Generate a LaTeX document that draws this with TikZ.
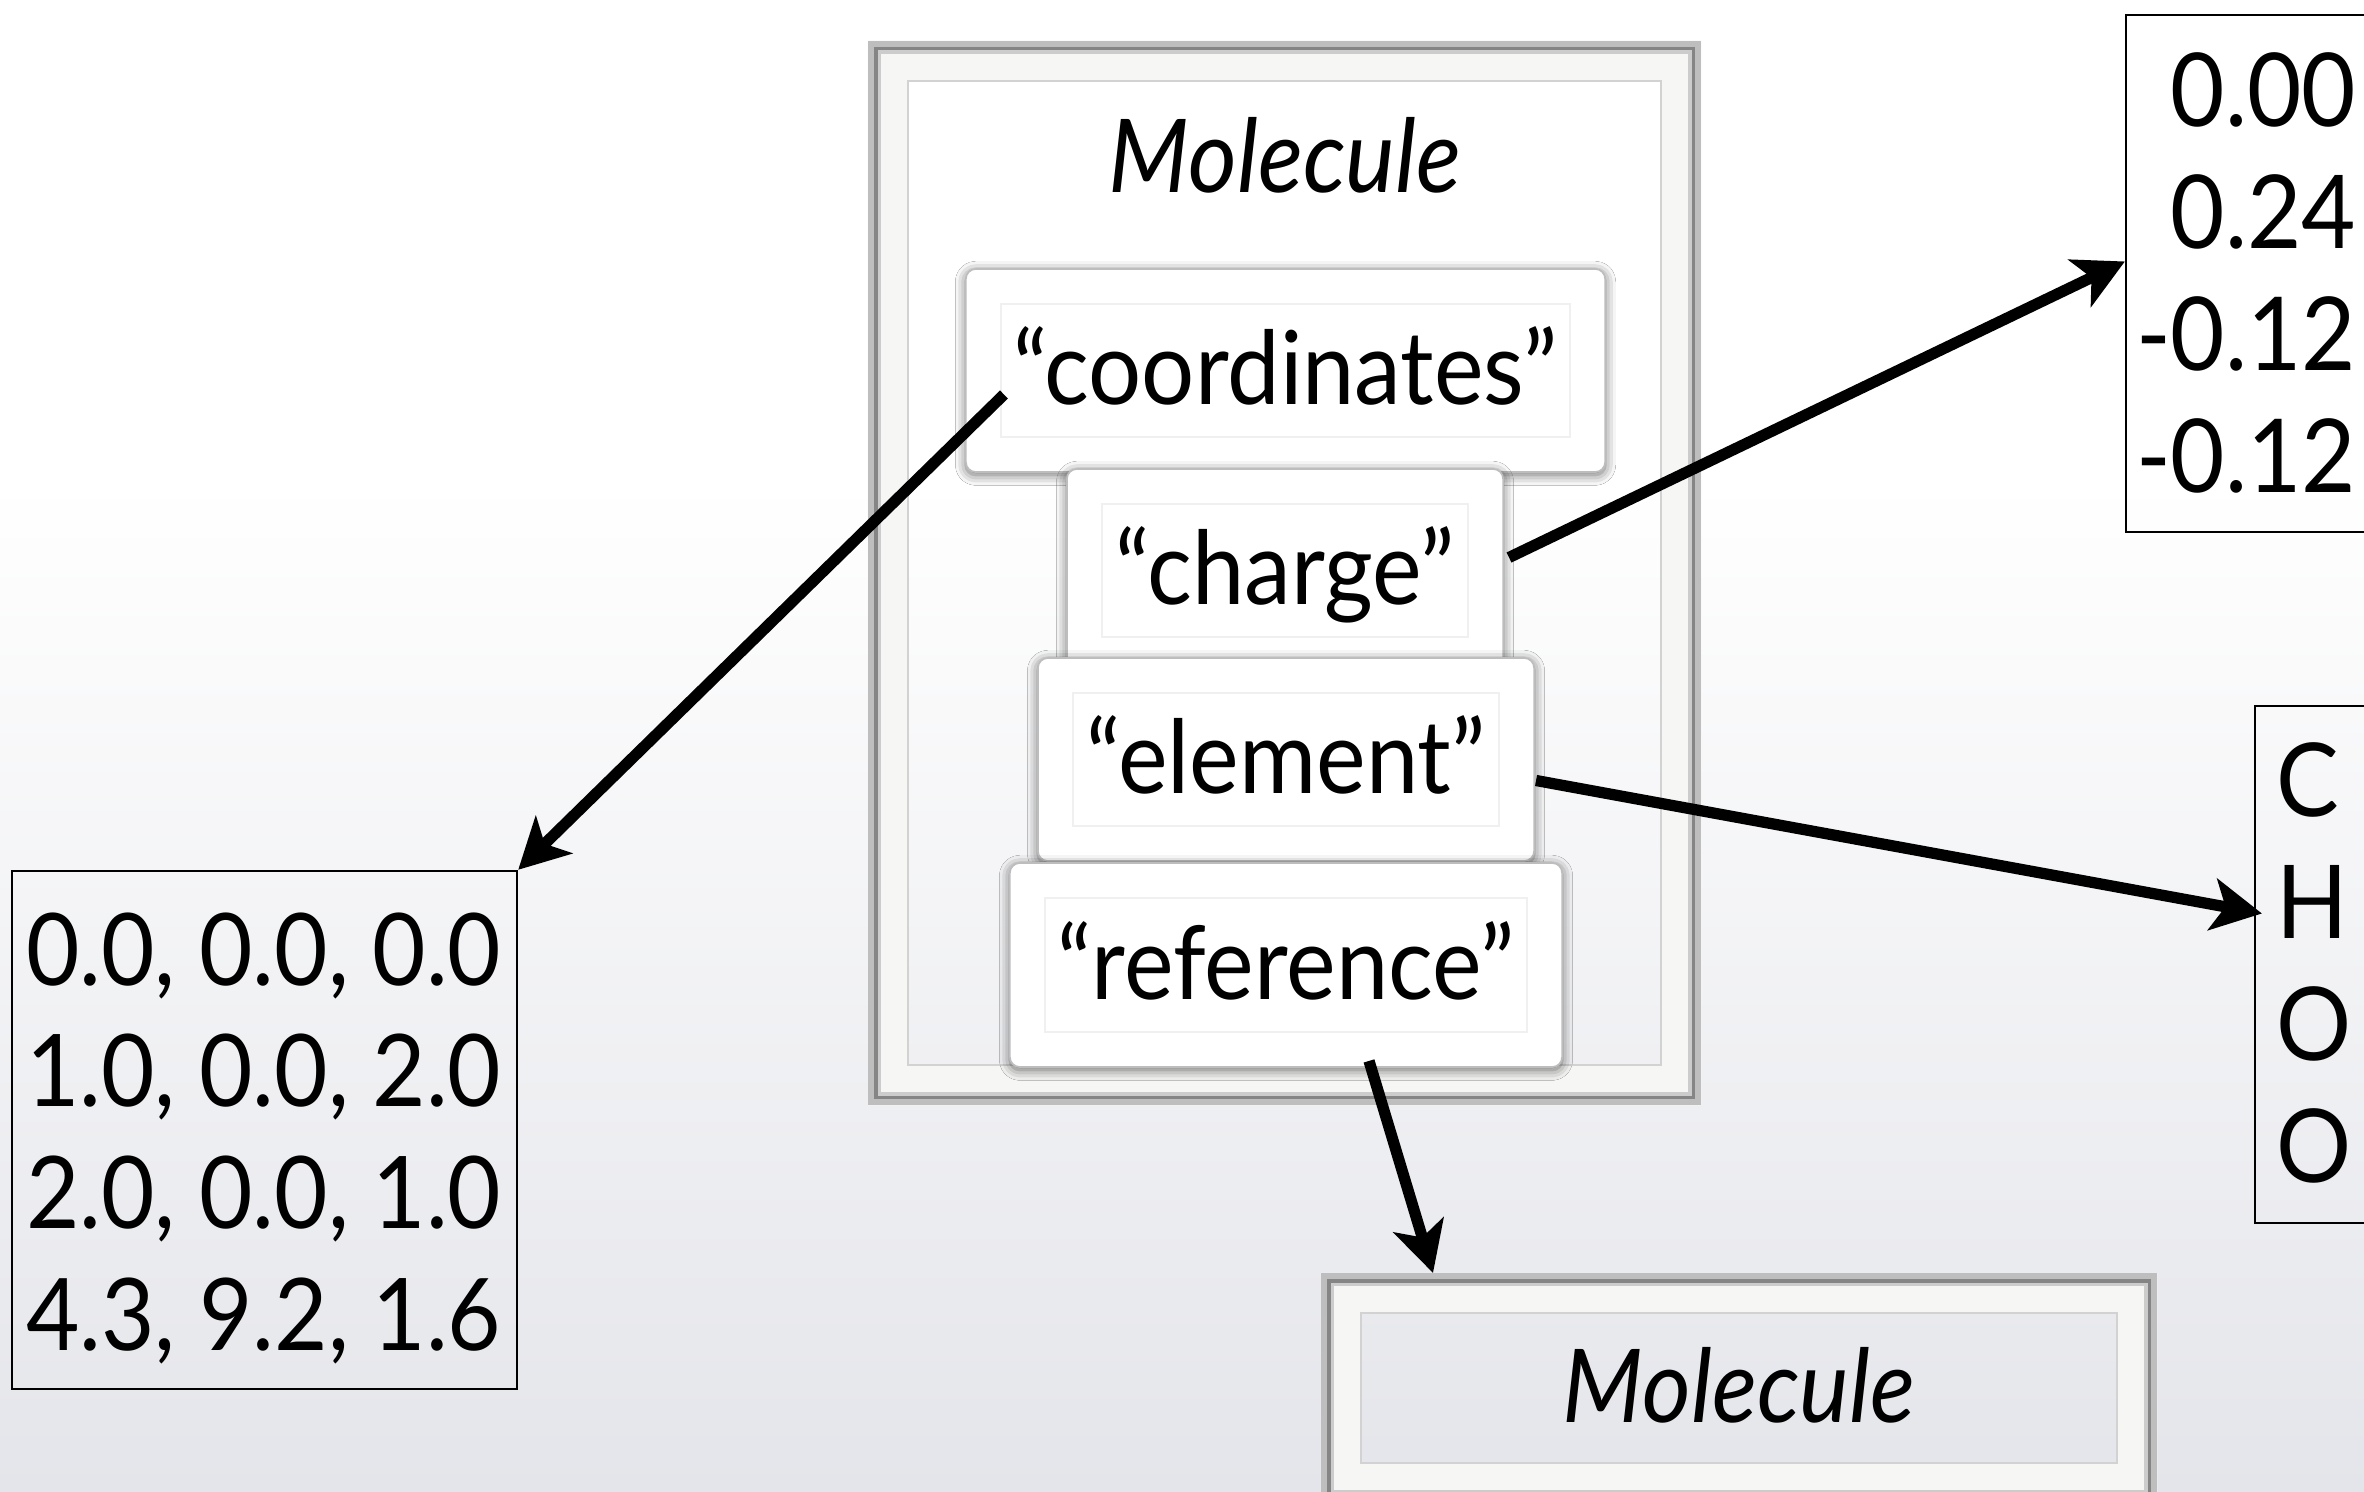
\documentclass[tikz,border=0pt]{standalone}
\usepackage{fontspec}
\setmainfont{Lato}[FakeStretch=0.92]
\usetikzlibrary{arrows.meta,shadows.blur,calc}

\definecolor{bgbot}{HTML}{E4E5EA}
\definecolor{matcol}{HTML}{F6F6F4}
\definecolor{framelight}{HTML}{BEBEBE}
\definecolor{framedark}{HTML}{858585}
\definecolor{innerln}{HTML}{D2D2D2}
\definecolor{keyline}{HTML}{BDBDBD}
\definecolor{keyinner}{HTML}{F0F0F0}

\tikzset{
  txt/.style={font=\fontsize{29}{34.6}\selectfont},
  numtxt/.style={font=\fontsize{28.5}{34.6}\selectfont},
  keybox/.style={txt, draw=keyline, line width=0.5pt, fill=white,
    rounded corners=0.1cm, text height=23pt, text depth=3.4pt, inner sep=0pt,
    blur shadow={shadow blur radius=3pt, shadow xshift=0pt,
      shadow yshift=-0.8pt, shadow opacity=60}},
  framebox/.style={inner sep=0pt, outer sep=0pt},
  numbox/.style={draw=black, line width=0.6pt, inner sep=0pt},
  conn/.style={line width=3.2pt, -{Stealth[length=5mm,width=5.2mm,inset=1.3mm]}},
}

% passe-partout frame around a rectangular node
\newcommand\matframe[1]{%
  \fill[matcol, even odd rule] (#1.north west) rectangle (#1.south east)
    ([shift={(40,40)}]#1.north west) rectangle ([shift={(-40,-40)}]#1.south east);
  \draw[framelight, line width=0.065cm]
    ([shift={(3.2,3.2)}]#1.north west) rectangle ([shift={(-3.2,-3.2)}]#1.south east);
  \draw[framedark, line width=0.04cm]
    ([shift={(8,8)}]#1.north west) rectangle ([shift={(-8,-8)}]#1.south east);
  \draw[black!20, line width=0.035cm]
    ([shift={(11.5,11.5)}]#1.north west) rectangle ([shift={(-11.5,-11.5)}]#1.south east);
  \draw[innerln, line width=0.02cm]
    ([shift={(40,40)}]#1.north west) rectangle ([shift={(-40,-40)}]#1.south east);
}
% faint inner rectangle of a key box
\newcommand\keyinset[1]{%
  \draw[keyinner, line width=0.8pt]
    ([shift={(36,36)}]#1.north west) rectangle ([shift={(-36,-36)}]#1.south east);
}

\begin{document}
\begin{tikzpicture}[x=0.01cm, y=-0.01cm]
  \useasboundingbox (0,0) rectangle (2364,1492);
  \clip (0,0) rectangle (2364,1492);

  % background
  \fill[white] (0,0) rectangle (2364,480);
  \shade[top color=white, bottom color=bgbot] (0,479) rectangle (2364,1492);

  % outer Molecule frame
  \node[framebox, minimum width=8.33cm, minimum height=10.64cm] (outer) at (1284.5,573) {};
  \matframe{outer}
  \node[txt, anchor=base] (title) at (1285,193) {\itshape Molecule};

  % keys
  \node[keybox, minimum width=6.39cm, minimum height=2.03cm] (kcoord) at (1285.5,370.5) {“coordinates”};
  \keyinset{kcoord}
  \node[keybox, minimum width=4.36cm, minimum height=2.03cm] (kcharge) at (1285,570.5) {“charge”};
  \keyinset{kcharge}
  \node[keybox, minimum width=4.96cm, minimum height=2.03cm] (kelem) at (1286,759.5) {“element”};
  \keyinset{kelem}
  \node[keybox, minimum width=5.52cm, minimum height=2.04cm] (kref) at (1286,965) {“reference”};
  \keyinset{kref}

  % referenced Molecule
  \node[framebox, txt, text height=23pt, text depth=3.4pt,
        minimum width=8.36cm, minimum height=2.30cm] (molbox) at (1739,1388) {\itshape Molecule};
  \matframe{molbox}

  % value arrays
  \node[numbox, minimum width=5.05cm, minimum height=5.18cm] (numL) at (264.5,1130) {};
  \node[numtxt, anchor=base east, inner sep=0pt] (numLtxt) at (502,985)
    {\begin{tabular}[t]{@{}r@{}}0.0, 0.0, 0.0\\1.0, 0.0, 2.0\\2.0, 0.0, 1.0\\4.3, 9.2, 1.6\end{tabular}};

  \node[numbox, minimum width=2.94cm, minimum height=5.17cm] (chbox) at (2273,273.5) {};
  \node[txt, anchor=base east, inner sep=0pt] (chtxt) at (2357,127)
    {\begin{tabular}[t]{@{}r@{}}0.00\\0.24\\-0.12\\-0.12\end{tabular}};

  \node[numbox, minimum width=1.65cm, minimum height=5.17cm] (elbox) at (2337.5,964.5) {};
  \node[txt, anchor=base west, inner sep=0pt] (eltxt) at (2276,817)
    {\begin{tabular}[t]{@{}l@{}}C\\H\\O\\O\end{tabular}};

  % connectors
  \draw[conn] ([shift={(39,24)}]kcoord.west) -- (numL.north east);
  \draw[conn] ([shift={(5,-13)}]kcharge.east) -- ([shift={(0,-12)}]chbox.west);
  \draw[conn] ([shift={(1,21)}]kelem.east) -- ([shift={(8,-51)}]elbox.west);
  \draw[conn] ([shift={(83,-7)}]kref.south) -- ([shift={(-306,0)}]molbox.north);
\end{tikzpicture}
\end{document}
